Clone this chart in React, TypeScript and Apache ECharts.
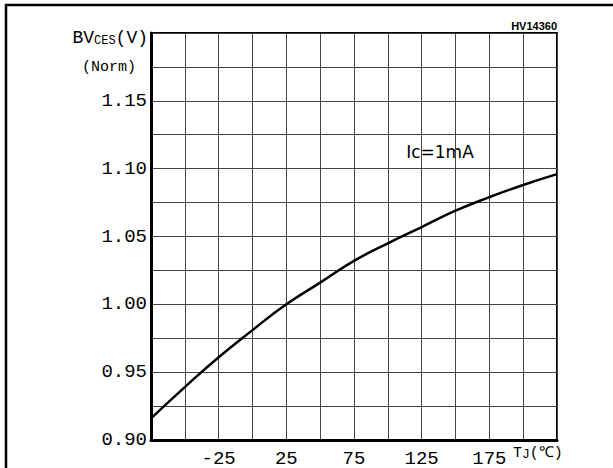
import React, { useEffect, useRef } from "react";
import * as echarts from "echarts";

// Junction temperature (°C) and normalised BVces
const temperatures = [-75, -50, -25, 0, 25, 50, 75, 100, 125, 150, 175, 200, 225];
const bvcesNorm = [0.916, 0.939, 0.961, 0.981, 1.0, 1.016, 1.032, 1.045, 1.057, 1.069, 1.079, 1.088, 1.096];

const xTickLabels = [-25, 25, 75, 125, 175];
const yTickLabels = [0.9, 0.95, 1.0, 1.05, 1.1, 1.15];

const xMin = -75;
const xMax = 225;
const xStep = 25;
const yMin = 0.9;
const yMax = 1.2;
const yStep = 0.025;

const chartCode = "HV14360";
const conditionLabel = "Ic=1mA";

const MONO = '"Liberation Mono", "DejaVu Sans Mono", monospace';
const SANS = '"DejaVu Sans", sans-serif';

export default function App() {
  const ref = useRef<HTMLDivElement>(null);

  useEffect(() => {
    if (!ref.current) return;
    const chart = echarts.init(ref.current, null, { renderer: "svg" });
    const isTick = (list: number[], v: number) => list.some((t) => Math.abs(t - v) < 1e-6);

    chart.setOption({
      animation: false,
      backgroundColor: "#fff",
      grid: {
        left: 151,
        top: 33,
        width: 406,
        height: 408,
        show: true,
        borderColor: "#000",
        borderWidth: 2,
      },
      xAxis: {
        type: "value",
        min: xMin,
        max: xMax,
        interval: xStep,
        axisLine: { show: true, onZero: false, lineStyle: { color: "#000", width: 3 } },
        axisTick: { show: false },
        splitLine: { show: true, lineStyle: { color: "#444", width: 1 } },
        axisLabel: {
          margin: 9,
          color: "#000",
          fontFamily: MONO,
          fontSize: 19,
          showMinLabel: true,
          showMaxLabel: true,
          formatter: (v: number) => (isTick(xTickLabels, v) ? String(Math.round(v)) : ""),
        },
      },
      yAxis: {
        type: "value",
        min: yMin,
        max: yMax,
        interval: yStep,
        axisLine: { show: true, onZero: false, lineStyle: { color: "#000", width: 3 } },
        axisTick: { show: false },
        splitLine: { show: true, lineStyle: { color: "#444", width: 1 } },
        axisLabel: {
          margin: 4,
          color: "#000",
          fontFamily: MONO,
          fontSize: 19,
          showMinLabel: true,
          showMaxLabel: true,
          formatter: (v: number) => (isTick(yTickLabels, v) ? v.toFixed(2) : ""),
        },
      },
      series: [
        {
          type: "line",
          data: temperatures.map((t, i) => [t, bvcesNorm[i]]),
          smooth: true,
          symbol: "none",
          lineStyle: { color: "#000", width: 2.5 },
          z: 5,
        },
      ],
      graphic: [
        {
          type: "rect",
          shape: { x: 6, y: 5, width: 800, height: 700 },
          style: { fill: "none", stroke: "#000", lineWidth: 2.5 },
          silent: true,
        },
        {
          type: "text",
          style: {
            x: 148,
            y: 47,
            align: "right",
            verticalAlign: "bottom",
            text: "{a|BV}{s|CES}{a|(V)}",
            rich: {
              a: { fontFamily: MONO, fontSize: 18, fill: "#000", verticalAlign: "bottom" },
              s: { fontFamily: MONO, fontSize: 12, fill: "#000", verticalAlign: "bottom" },
            },
          },
        },
        {
          type: "text",
          style: {
            x: 109,
            y: 67,
            align: "center",
            verticalAlign: "middle",
            text: "(Norm)",
            fontFamily: MONO,
            fontSize: 15,
            fill: "#000",
          },
        },
        {
          type: "text",
          style: {
            x: 557,
            y: 31,
            align: "right",
            verticalAlign: "bottom",
            text: chartCode,
            fontFamily: '"Liberation Sans", Arial, sans-serif',
            fontWeight: "bold",
            fontSize: 11,
            fill: "#000",
          },
        },
        {
          type: "text",
          style: {
            x: 440,
            y: 152,
            align: "center",
            verticalAlign: "middle",
            text: conditionLabel,
            fontFamily: SANS,
            fontSize: 17,
            fill: "#000",
          },
        },
        {
          type: "text",
          style: {
            x: 513,
            y: 446,
            align: "left",
            verticalAlign: "top",
            text: "{a|T}{s|J}{a|(\u2103)}",
            rich: {
              a: { fontFamily: MONO, fontSize: 15, fill: "#000", verticalAlign: "bottom" },
              s: { fontFamily: MONO, fontSize: 13, fill: "#000", verticalAlign: "bottom" },
            },
          },
        },
      ],
    });

    return () => chart.dispose();
  }, []);

  return (
    <div
      ref={ref}
      style={{ position: "absolute", left: 0, top: 0, width: 613, height: 468 }}
    />
  );
}
